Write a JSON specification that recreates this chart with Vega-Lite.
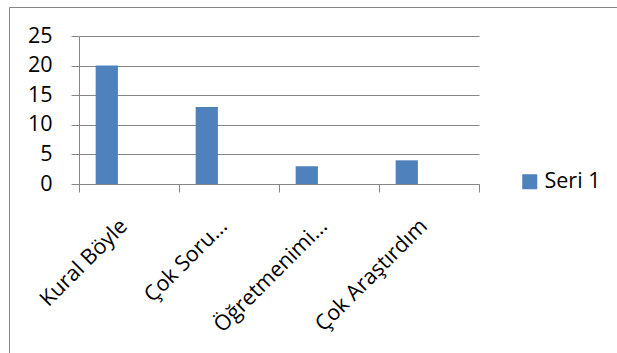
{
  "$schema": "https://vega.github.io/schema/vega-lite/v6.json",
  "width": 608,
  "height": 346,
  "autosize": {"type": "none"},
  "padding": {"left": 9, "top": 7, "right": 0, "bottom": 0},
  "background": "white",
  "config": {
    "view": {"stroke": "#868686", "strokeWidth": 1, "strokeDash": [608, 954, 346]},
    "font": "Open Sans",
    "axis": {
      "labelFont": "Open Sans",
      "labelFontSize": 21.5,
      "labelColor": "#000000",
      "domainColor": "#868686",
      "tickColor": "#868686",
      "gridColor": "#868686",
      "domainWidth": 1,
      "tickWidth": 1,
      "gridWidth": 1
    }
  },
  "data": {
    "values": [
      {"category": "Kural Böyle", "series": "Seri 1", "value": 20},
      {"category": "Çok Soru...", "series": "Seri 1", "value": 13},
      {"category": "Öğretmenimi...", "series": "Seri 1", "value": 3},
      {"category": "Çok Araştırdım", "series": "Seri 1", "value": 4}
    ]
  },
  "mark": {"type": "bar"},
  "encoding": {
    "x": {
      "field": "category",
      "type": "nominal",
      "sort": null,
      "scale": {"range": [70, 470], "paddingInner": 0, "paddingOuter": 0},
      "axis": {
        "title": null,
        "labelAngle": -45,
        "tickBand": "extent",
        "tickSize": 8,
        "offset": -169,
        "labelPadding": 23,
        "labelOffset": -13,
        "grid": false,
        "labelLimit": 0
      }
    },
    "xOffset": {
      "field": "series",
      "type": "nominal",
      "scale": {"domain": ["Seri 1", "Seri 2", "Seri 3"], "paddingInner": 0, "paddingOuter": 0.75}
    },
    "y": {
      "field": "value",
      "type": "quantitative",
      "scale": {"domain": [0, 25], "range": [177, 29], "nice": false, "zero": true},
      "axis": {
        "title": null,
        "values": [0, 5, 10, 15, 20, 25],
        "grid": true,
        "tickSize": 8,
        "offset": -70,
        "labelPadding": 19
      }
    },
    "color": {
      "field": "series",
      "type": "nominal",
      "scale": {"domain": ["Seri 1"], "range": ["#4F81BD"]},
      "legend": {
        "title": null,
        "orient": "none",
        "legendX": 510,
        "legendY": 164,
        "padding": 0,
        "symbolType": "square",
        "symbolSize": 225,
        "symbolStrokeWidth": 0,
        "labelFont": "Open Sans",
        "labelFontSize": 21.5,
        "labelColor": "#000000",
        "labelOffset": 4
      }
    }
  }
}
